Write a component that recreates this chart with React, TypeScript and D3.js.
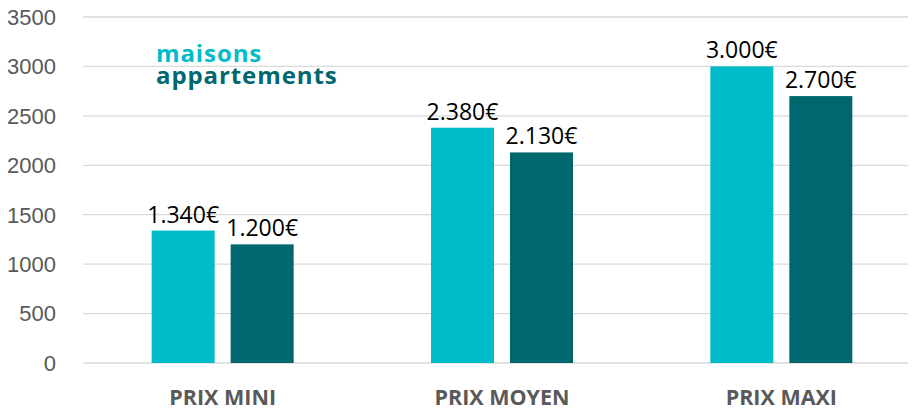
import React from "react";
import * as d3 from "d3";

const categories = ["PRIX MINI", "PRIX MOYEN", "PRIX MAXI"];
const seriesNames = ["maisons", "appartements"];
const maisons = [1340, 2380, 3000];
const appartements = [1200, 2130, 2700];
const yTicks = [0, 500, 1000, 1500, 2000, 2500, 3000, 3500];
const colors = ["#00BCC8", "#00676F"];

const W = 921;
const H = 417;

function fmt(v: number) {
  return d3.format(",")(v).replace(/,/g, ".") + "€";
}

export default function App() {
  const y = d3.scaleLinear().domain([0, 3500]).range([363, 17]);
  const x = d3.scaleBand<string>().domain(categories).range([83, 921]).paddingInner(0).paddingOuter(0);
  const inner = d3
    .scaleBand<string>()
    .domain(seriesNames)
    .range([-71, 71])
    .paddingInner(16 / 79)
    .paddingOuter(0);
  const series = [maisons, appartements];

  return (
    <svg width={W} height={H} style={{ position: "absolute", left: 0, top: 0, background: "#fff" }}>
      {yTicks.map((t) => (
        <g key={t}>
          <line x1={83} x2={908} y1={y(t)} y2={y(t)} stroke="#D9D9D9" strokeWidth={1.3} />
          <text
            x={56}
            y={y(t)}
            dy="0.36em"
            textAnchor="end"
            fontFamily="'Liberation Sans', Arial, sans-serif"
            fontSize={22}
            fill="#595959"
          >
            {t}
          </text>
        </g>
      ))}
      {categories.map((c, i) => {
        const cx = (x(c) as number) + x.bandwidth() / 2;
        return (
          <g key={c}>
            {seriesNames.map((s, j) => {
              const v = series[j][i];
              const bx = cx + (inner(s) as number);
              return (
                <g key={s}>
                  <rect x={bx} y={y(v)} width={inner.bandwidth()} height={y(0) - y(v)} fill={colors[j]} />
                  <text
                    x={bx + inner.bandwidth() / 2}
                    y={y(v) - 8}
                    textAnchor="middle"
                    fontFamily="'Open Sans', sans-serif"
                    fontSize={23}
                    fill="#000"
                  >
                    {fmt(v)}
                  </text>
                </g>
              );
            })}
            <text
              x={cx}
              y={405}
              textAnchor="middle"
              fontFamily="'Open Sans', sans-serif"
              fontWeight={700}
              fontSize={21.5}
              fill="#595959"
            >
              {c}
            </text>
          </g>
        );
      })}
      {seriesNames.map((s, j) => (
        <text
          key={s}
          x={156}
          y={62 + j * 22}
          fontFamily="'Open Sans', sans-serif"
          fontWeight={700}
          fontSize={24}
          letterSpacing={0.9}
          fill={colors[j]}
        >
          {s}
        </text>
      ))}
    </svg>
  );
}
